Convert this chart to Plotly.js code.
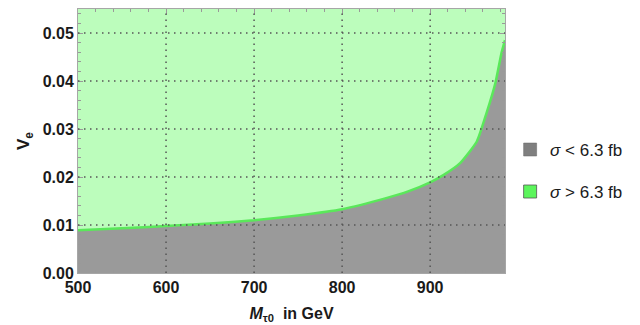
<!DOCTYPE html>
<html>
<head>
<meta charset="utf-8">
<script src="https://cdn.plot.ly/plotly-3.0.1.min.js"></script>
<style>html,body{margin:0;padding:0;background:#fff;}</style>
</head>
<body>
<div id="chart" style="width:640px;height:325px;"></div>
<script>
// Boundary curve: sigma = 6.3 fb
const massGeV = [500, 550, 600, 650, 700, 750, 800, 850, 875, 900, 915, 934, 953, 964, 974, 981, 985];
const boundaryVe = [0.0089, 0.0093, 0.0098, 0.0103, 0.0110, 0.0120, 0.0133, 0.0156, 0.0170, 0.0189, 0.0204, 0.0229, 0.0274, 0.0333, 0.0395, 0.0458, 0.0485];
const xTicks = [500, 600, 700, 800, 900];
const yTicks = [0.00, 0.01, 0.02, 0.03, 0.04, 0.05];
const xGrid = [600, 700, 800, 900];
const yGrid = [0.01, 0.02, 0.03, 0.04, 0.05];
const xRange = [500, 985];
const yRange = [0, 0.055];
const legendLabels = ['<i>σ</i> &lt; 6.3 fb', '<i>σ</i> &gt; 6.3 fb'];

const gray = '#9a9a9a';
const lightGreen = '#bcfdbc';
const lineGreen = '#5ae85a';
const font = 'Liberation Sans, Arial, sans-serif';

const traces = [
  {
    x: massGeV, y: boundaryVe, type: 'scatter', mode: 'lines',
    fill: 'tozeroy', fillcolor: gray,
    line: {color: lineGreen, width: 2.5, shape: 'spline', smoothing: 0.5},
    showlegend: false, hoverinfo: 'skip'
  },
  {
    x: [null], y: [null], type: 'scatter', mode: 'markers',
    marker: {symbol: 'square', size: 13, color: '#7f7f7f', line: {color: '#666', width: 0.5}},
    name: legendLabels[0], legend: 'legend'
  },
  {
    x: [null], y: [null], type: 'scatter', mode: 'markers',
    marker: {symbol: 'square', size: 13, color: '#5cf55c', line: {color: '#555', width: 0.8}},
    name: legendLabels[1], legend: 'legend2'
  }
];

const shapes = [];
xGrid.forEach(v => shapes.push({type: 'line', xref: 'x', yref: 'paper', x0: v, x1: v, y0: 0, y1: 1,
  line: {color: '#555', width: 1.5, dash: '1.5px,4.5px'}, layer: 'above'}));
yGrid.forEach(v => shapes.push({type: 'line', xref: 'paper', yref: 'y', x0: 0, x1: 1, y0: v, y1: v,
  line: {color: '#555', width: 1.5, dash: '1.5px,4.5px'}, layer: 'above'}));

const axisCommon = {
  showgrid: false, zeroline: false, showline: true, linecolor: '#a6a6a6', linewidth: 1,
  mirror: 'allticks', ticks: 'inside', ticklen: 5, tickcolor: '#999', tickwidth: 1,
  tickfont: {family: font, size: 16, color: '#1a1a1a', weight: 'bold'},
  layer: 'above traces'
};

const layout = {
  width: 640, height: 325,
  margin: {l: 78, r: 135, t: 9, b: 52},
  paper_bgcolor: '#ffffff', plot_bgcolor: lightGreen,
  font: {family: font},
  xaxis: Object.assign({}, axisCommon, {
    range: xRange, tickvals: xTicks, ticktext: xTicks.map(String),
    minor: {dtick: 20, ticks: 'inside', ticklen: 3, tickcolor: '#999', showgrid: false},
    title: {text: '<i>M</i><sub>τ0</sub>  in GeV', font: {family: font, size: 16, color: '#1a1a1a', weight: 'bold'}, standoff: 12}
  }),
  yaxis: Object.assign({}, axisCommon, {
    range: yRange, tickvals: yTicks, ticktext: yTicks.map(v => v.toFixed(2)),
    minor: {dtick: 0.002, ticks: 'inside', ticklen: 3, tickcolor: '#999', showgrid: false},
    title: {text: 'V<sub>e</sub>', font: {family: font, size: 17, color: '#1a1a1a', weight: 'bold'}, standoff: 8}
  }),
  shapes: shapes,
  legend: {x: 1.012, y: 0.466, xanchor: 'left', yanchor: 'middle', bgcolor: 'rgba(0,0,0,0)',
    font: {family: font, size: 17, color: '#1a1a1a'}},
  legend2: {x: 1.012, y: 0.307, xanchor: 'left', yanchor: 'middle', bgcolor: 'rgba(0,0,0,0)',
    font: {family: font, size: 17, color: '#1a1a1a'}}
};

Plotly.newPlot('chart', traces, layout, {staticPlot: true, displayModeBar: false});
</script>
</body>
</html>
